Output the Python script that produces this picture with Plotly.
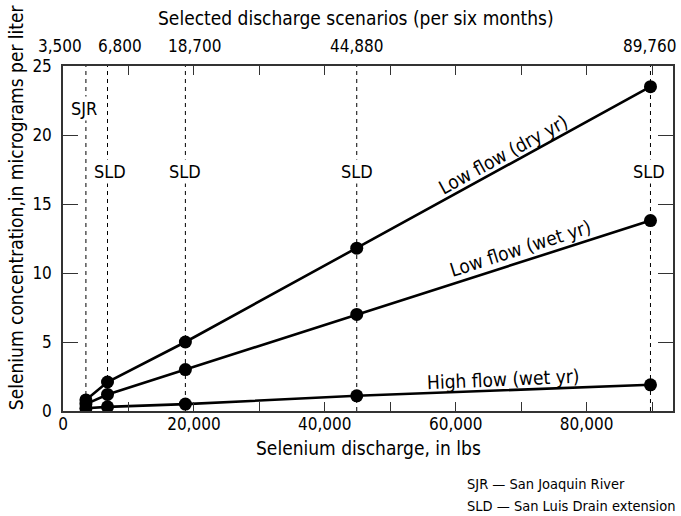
import plotly.graph_objects as go

# Selected selenium discharge scenarios (lbs per six months)
scenarios = [3500, 6800, 18700, 44880, 89760]
scenario_labels = ["3,500", "6,800", "18,700", "44,880", "89,760"]
scenario_sources = ["SJR", "SLD", "SLD", "SLD", "SLD"]

# Selenium concentration (micrograms per liter) for each flow condition
low_flow_dry = [0.8, 2.1, 5.0, 11.8, 23.5]
low_flow_wet = [0.5, 1.2, 3.0, 7.0, 13.8]
high_flow_wet = [0.2, 0.3, 0.5, 1.1, 1.9]

# x-axis tick labels
x_tickvals = [0, 20000, 40000, 60000, 80000]
x_ticktext = ["0", "20,000", "40,000", "60,000", "80,000"]
x_minor_tickvals = [10000, 30000, 50000, 70000, 90000]
y_tickvals = [0, 5, 10, 15, 20, 25]

FONT = "Liberation Sans Narrow, DejaVu Sans Condensed, Arial Narrow, sans-serif"
X_MAX = 93200
Y_MAX = 25

fig = go.Figure()

# Dashed verticals at each discharge scenario
for xv in scenarios:
    fig.add_trace(go.Scatter(
        x=[xv, xv], y=[0, Y_MAX], mode="lines",
        line=dict(color="black", width=1, dash="4px,4px"),
        hoverinfo="skip", showlegend=False,
    ))

# Concentration curves
for ys in (low_flow_dry, low_flow_wet, high_flow_wet):
    fig.add_trace(go.Scatter(
        x=scenarios, y=ys, mode="lines+markers",
        line=dict(color="black", width=2.6),
        marker=dict(color="black", size=13),
        showlegend=False,
    ))

annotations = []

# Scenario values along the top
label_shift = [-26, 12, 10, 0, 0]
for xv, txt, dx in zip(scenarios, scenario_labels, label_shift):
    annotations.append(dict(
        x=xv, y=1, xref="x", yref="paper", text=txt, showarrow=False,
        xanchor="center", yanchor="middle", xshift=dx, yshift=20,
        font=dict(size=17),
    ))

# Source labels on the dashed lines
source_y = {"SJR": 21.9, "SLD": 17.35}
source_shift = [-2, 2, 0, 0, -1]
for xv, src, dx in zip(scenarios, scenario_sources, source_shift):
    annotations.append(dict(
        x=xv, y=source_y[src], xref="x", yref="y", text=src, showarrow=False,
        xanchor="center", yanchor="middle", xshift=dx,
        bgcolor="white", borderpad=1, font=dict(size=18),
    ))

# Curve labels, rotated along each line
curve_labels = [
    ("Low flow (dry yr)", 67300, 18.65, -28.7),
    ("Low flow (wet yr)", 69900, 11.8, -17.6),
    ("High flow (wet yr)", 67300, 2.3, -2.5),
]
for txt, xv, yv, ang in curve_labels:
    annotations.append(dict(
        x=xv, y=yv, xref="x", yref="y", text=txt, showarrow=False,
        xanchor="center", yanchor="middle", textangle=ang,
        font=dict(size=19),
    ))

# Axis titles
annotations.append(dict(
    x=0.5, y=1, xref="paper", yref="paper",
    text="Selected discharge scenarios (per six months)", showarrow=False,
    xanchor="center", yanchor="middle", yshift=48, xshift=-12, font=dict(size=19),
))
annotations.append(dict(
    x=0.5, y=0, xref="paper", yref="paper",
    text="Selenium discharge, in lbs", showarrow=False,
    xanchor="center", yanchor="middle", yshift=-37, font=dict(size=19),
))
annotations.append(dict(
    x=-0.077, y=0.591, xref="paper", yref="paper",
    text="Selenium concentration,in micrograms per liter", showarrow=False,
    xanchor="center", yanchor="middle", textangle=-90, font=dict(size=19),
))

L, R, T, B = 63, 6, 66, 105
W, H = 681, 516
pw, ph = W - L - R, H - T - B

# Abbreviation key, placed in pixel terms below the plot
key_lines = [("SJR \u2014 San Joaquin River", 484),
             ("SLD \u2014 San Luis Drain extension", 506)]
for txt, py in key_lines:
    annotations.append(dict(
        x=(466 - L) / pw, y=(H - B - py) / ph, xref="paper", yref="paper",
        showarrow=False, text=txt, xanchor="left", yanchor="middle",
        font=dict(size=14.5),
    ))

fig.update_layout(
    width=W, height=H,
    margin=dict(l=L, r=R, t=T, b=B),
    paper_bgcolor="white", plot_bgcolor="white",
    font=dict(family=FONT, size=19, color="black"),
    annotations=annotations,
    showlegend=False,
)

fig.update_xaxes(
    range=[0, X_MAX], tickmode="array",
    tickvals=x_tickvals, ticktext=x_ticktext,
    ticks="inside", ticklen=9, tickwidth=1.3, tickcolor="#333",
    minor=dict(tickvals=x_minor_tickvals,
               ticks="inside", ticklen=9, tickwidth=1.3, tickcolor="#333"),
    showline=True, linecolor="#333", linewidth=1.5, mirror="ticks",
    showgrid=False, zeroline=False, ticklabelstandoff=-3,
    tickfont=dict(size=17),
)
fig.update_yaxes(
    range=[0, Y_MAX], tickmode="array", tickvals=y_tickvals,
    ticks="inside", ticklen=15, tickwidth=1.3, tickcolor="#333",
    showline=True, linecolor="#333", linewidth=1.5, mirror="ticks",
    showgrid=False, zeroline=False, ticklabelstandoff=6,
    tickfont=dict(size=17),
)

fig.write_html("out.html")
